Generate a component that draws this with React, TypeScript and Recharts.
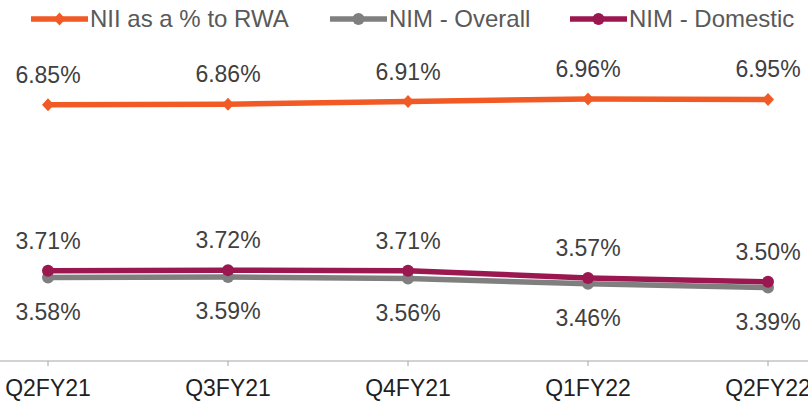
import { LineChart, Line, XAxis, YAxis, LabelList } from 'recharts';

const quarters = ['Q2FY21', 'Q3FY21', 'Q4FY21', 'Q1FY22', 'Q2FY22'];
const niiToRwa = [6.85, 6.86, 6.91, 6.96, 6.95];
const nimOverall = [3.58, 3.59, 3.56, 3.46, 3.39];
const nimDomestic = [3.71, 3.72, 3.71, 3.57, 3.5];

const ORANGE = '#F15A24';
const GREY = '#7F7F7F';
const MAROON = '#9B1750';
const FONT = "'Liberation Sans', Arial, sans-serif";

const data = quarters.map((q, i) => ({
    quarter: q,
    nii: niiToRwa[i],
    overall: nimOverall[i],
    domestic: nimDomestic[i],
}));

const legendItems = [
    { label: 'NII as a % to RWA', color: ORANGE, shape: 'diamond', left: 31 },
    { label: 'NIM - Overall', color: GREY, shape: 'circle', left: 330 },
    { label: 'NIM - Domestic', color: MAROON, shape: 'circle', left: 570 },
];

const Diamond = (props: any) => {
    const { cx, cy } = props;
    if (cx == null || cy == null) return null;
    return <polygon points={`${cx - 6},${cy} ${cx},${cy - 6.5} ${cx + 6},${cy} ${cx},${cy + 6.5}`} fill={ORANGE} />;
};

const makeLabel = (dy: number) => (props: any) => {
    const { x, y, value } = props;
    return (
        <text x={x} y={y + dy} textAnchor="middle" fontSize={23} fill="#404040" fontFamily={FONT}>
            {Number(value).toFixed(2)}%
        </text>
    );
};

const App = () => {
    return (
        <div style={{ position: 'absolute', left: 0, top: 0, width: 808, height: 402, background: '#fff', overflow: 'hidden' }}>
            {legendItems.map((item) => (
                <div
                    key={item.label}
                    style={{ position: 'absolute', left: item.left, top: 7, height: 24, display: 'flex', alignItems: 'center', fontFamily: FONT, fontSize: 24, color: '#595959', whiteSpace: 'nowrap' }}
                >
                    <svg width={57} height={14} style={{ marginRight: 2 }}>
                        <line x1={0} y1={7} x2={57} y2={7} stroke={item.color} strokeWidth={5.5} strokeLinecap="round" />
                        {item.shape === 'diamond' ? (
                            <polygon points="22.5,7 28.5,0.5 34.5,7 28.5,13.5" fill={item.color} />
                        ) : (
                            <circle cx={28.5} cy={7} r={6} fill={item.color} />
                        )}
                    </svg>
                    <span>{item.label}</span>
                </div>
            ))}
            <LineChart width={808} height={402} data={data} margin={{ top: 44, right: 0, bottom: 0, left: 0 }}>
                <XAxis
                    dataKey="quarter"
                    padding={{ left: 48, right: 40 }}
                    height={41}
                    stroke="#A6A6A6"
                    tickSize={5}
                    tickMargin={14}
                    tick={{ fontSize: 23, fill: '#1F1F1F', fontFamily: FONT }}
                    interval={0}
                />
                <YAxis hide domain={[2, 8]} />
                <Line dataKey="nii" stroke={ORANGE} strokeWidth={5.5} dot={<Diamond />} activeDot={false} isAnimationActive={false}>
                    <LabelList dataKey="nii" content={makeLabel(-22)} />
                </Line>
                <Line dataKey="overall" stroke={GREY} strokeWidth={5.5} dot={{ r: 6, fill: GREY, stroke: 'none' }} activeDot={false} isAnimationActive={false}>
                    <LabelList dataKey="overall" content={makeLabel(42)} />
                </Line>
                <Line dataKey="domestic" stroke={MAROON} strokeWidth={5.5} dot={{ r: 6, fill: MAROON, stroke: 'none' }} activeDot={false} isAnimationActive={false}>
                    <LabelList dataKey="domestic" content={makeLabel(-22)} />
                </Line>
            </LineChart>
        </div>
    );
};

export default App;
